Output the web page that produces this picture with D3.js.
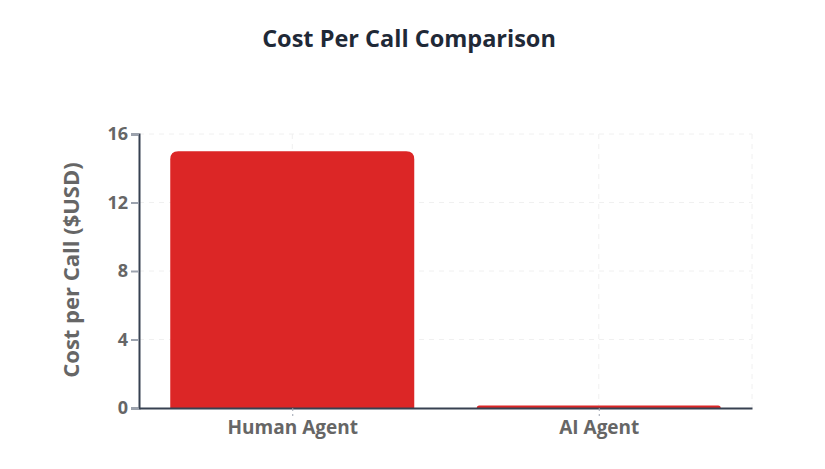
<!DOCTYPE html>
<html><head><meta charset="utf-8">
<script src="https://cdn.jsdelivr.net/npm/d3@7"></script>
<style>body{margin:0;background:#fff;} svg{display:block;font-family:"Open Sans","Noto Sans",sans-serif;}</style>
</head><body>
<svg id="c" width="825" height="469"></svg>
<script>
const categories = ["Human Agent", "AI Agent"];
const costValues = [15, 0.15];
const yTicks = [0, 4, 8, 12, 16];
const titleText = "Cost Per Call Comparison";
const yAxisTitle = "Cost per Call ($USD)";

const svg = d3.select("#c");
const m = {l: 139, r: 752, t: 134, b: 408};
const xc = d3.scalePoint().domain(categories).range([m.l, m.r]).padding(0.5);
const y = d3.scaleLinear().domain([0, 16]).range([m.b, m.t]);

// grid
const g = svg.append("g");
g.selectAll(".hg").data(yTicks.filter(d => d > 0)).enter().append("line")
  .attr("x1", m.l).attr("x2", m.r).attr("y1", d => y(d)).attr("y2", d => y(d))
  .attr("stroke", "#f0f0f0").attr("stroke-dasharray", "5,5");
g.selectAll(".vg").data(categories).enter().append("line")
  .attr("x1", d => xc(d)).attr("x2", d => xc(d)).attr("y1", m.t).attr("y2", m.b)
  .attr("stroke", "#f0f0f0").attr("stroke-dasharray", "5,5");
g.append("line").attr("x1", m.r).attr("x2", m.r).attr("y1", m.t).attr("y2", m.b)
  .attr("stroke", "#f0f0f0").attr("stroke-dasharray", "5,5");

// bars with rounded top
const bw = 244;
const r = 8;
function barPath(cx, v) {
  const x0 = cx - bw / 2, x1 = cx + bw / 2, yb = y(0), yt = y(v);
  const rr = Math.min(r, (yb - yt));
  return `M${x0},${yb} L${x0},${yt + rr} Q${x0},${yt} ${x0 + rr},${yt} L${x1 - rr},${yt} Q${x1},${yt} ${x1},${yt + rr} L${x1},${yb} Z`;
}
svg.selectAll(".bar").data(categories).enter().append("path")
  .attr("d", (d, i) => barPath(xc(d), costValues[i]))
  .attr("fill", "#dc2626");

// y axis
const ya = d3.axisLeft(y).tickValues(yTicks).tickSize(8).tickPadding(3);
const yg = svg.append("g").attr("transform", `translate(${m.l},0)`).call(ya);
yg.select(".domain").attr("stroke", "#374151").attr("stroke-width", 2);
yg.selectAll(".tick line").attr("stroke", "#9ca3af").attr("stroke-width", 2);
yg.selectAll(".tick text").attr("fill", "#666").style("font-size", "18px").style("font-weight", "bold")
  .style("font-family", "'Open Sans','Noto Sans',sans-serif");

// x axis
const xa = d3.axisBottom(xc).tickSize(8).tickPadding(4).tickSizeOuter(0);
const xg = svg.append("g").attr("transform", `translate(0,${m.b})`).call(xa);
xg.select(".domain").attr("stroke", "#374151").attr("stroke-width", 2);
xg.selectAll(".tick line").attr("stroke", "#9ca3af").attr("stroke-width", 1).attr("stroke-dasharray", "3,3");
xg.selectAll(".tick text").attr("fill", "#666").style("font-size", "19px").style("font-weight", "bold")
  .style("font-family", "'Open Sans','Noto Sans',sans-serif").attr("dy", "0.72em");

// titles
svg.append("text").attr("x", 409).attr("y", 47).attr("text-anchor", "middle")
  .attr("fill", "#1f2937").style("font-size", "23.5px").style("font-weight", "bold").text(titleText);
svg.append("text").attr("transform", `translate(79,270) rotate(-90)`).attr("text-anchor", "middle")
  .attr("fill", "#666").style("font-size", "22px").style("font-weight", "bold").text(yAxisTitle);
</script>
</body></html>
